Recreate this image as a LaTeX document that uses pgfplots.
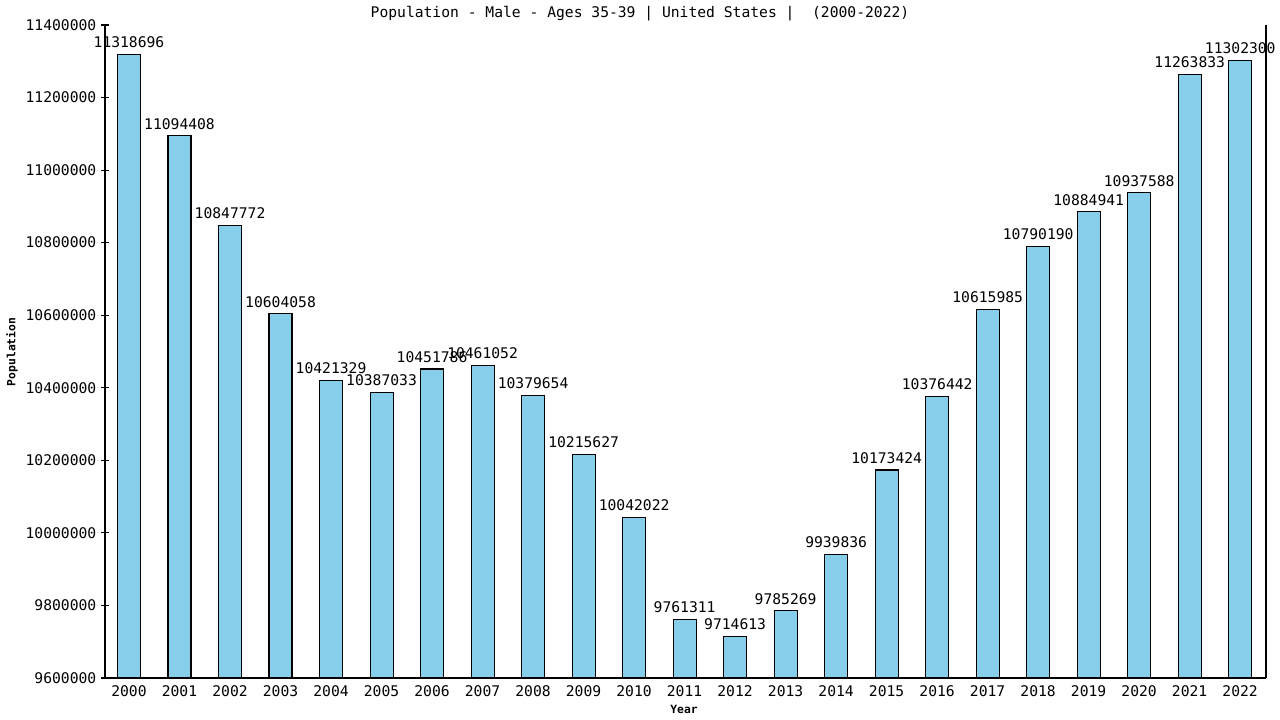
\documentclass[border=0pt]{standalone}
\usepackage{pgfplots}
\pgfplotsset{compat=1.18}
\usepackage{fontspec}
\setmainfont{DejaVu Sans Mono}
\definecolor{barblue}{HTML}{87CEEB}

\begin{document}
\begin{tikzpicture}[x=0.75pt,y=0.75pt]
  % canvas 1280 x 720 px, 1 px = 0.75 pt
  \path[use as bounding box] (0,0) rectangle (1280,720);
  \begin{axis}[
    at={(78.75pt,31.5pt)}, anchor=south west,
    width=870.75pt, height=489.75pt,
    scale only axis,
    clip=false,
    xmin=1999.525, xmax=2022.51,
    ymin=9600000, ymax=11400000,
    axis lines*=left,
    axis line style={-, black, line width=0.8pt},
    xtick={2000,...,2022},
    ytick={9600000,9800000,...,11400000},
    scaled y ticks=false,
    /pgf/number format/assume math mode=true,
    xticklabel style={/pgf/number format/1000 sep={}, font=\fontsize{11}{12}\selectfont, yshift=3.5pt},
    yticklabel style={/pgf/number format/fixed, /pgf/number format/1000 sep={}, font=\fontsize{11}{12}\selectfont},
    x tick style={draw=none},
    y tick style={black, line width=0.8pt},
    tick align=center,
    major tick length=6pt,
    ybar,
    bar width=17.25pt,
    nodes near coords={\pgfplotspointmeta},
    every node near coord/.append style={font=\fontsize{11}{12}\selectfont, black, inner sep=1.5pt, yshift=3pt},
    point meta=explicit symbolic,
  ]
    \addplot[fill=barblue, draw=black, line width=0.8pt] table[x=year, y=pop, meta=pop] {
      year pop
      2000 11318696
      2001 11094408
      2002 10847772
      2003 10604058
      2004 10421329
      2005 10387033
      2006 10451786
      2007 10461052
      2008 10379654
      2009 10215627
      2010 10042022
      2011 9761311
      2012 9714613
      2013 9785269
      2014 9939836
      2015 10173424
      2016 10376442
      2017 10615985
      2018 10790190
      2019 10884941
      2020 10937588
      2021 11263833
      2022 11302300
    };
    \draw[black, line width=0.8pt] (rel axis cs:1,0) -- (rel axis cs:1,1);
  \end{axis}
  \node[font=\fontsize{11}{12}\selectfont] at (640,706) {Population - Male - Ages 35-39 | United States |\ \ (2000-2022)};
  \node[font=\bfseries\fontsize{8.5}{10}\selectfont] at (684,11) {Year};
  \node[font=\bfseries\fontsize{8.5}{10}\selectfont, rotate=90] at (12,368) {Population};
\end{tikzpicture}
\end{document}
